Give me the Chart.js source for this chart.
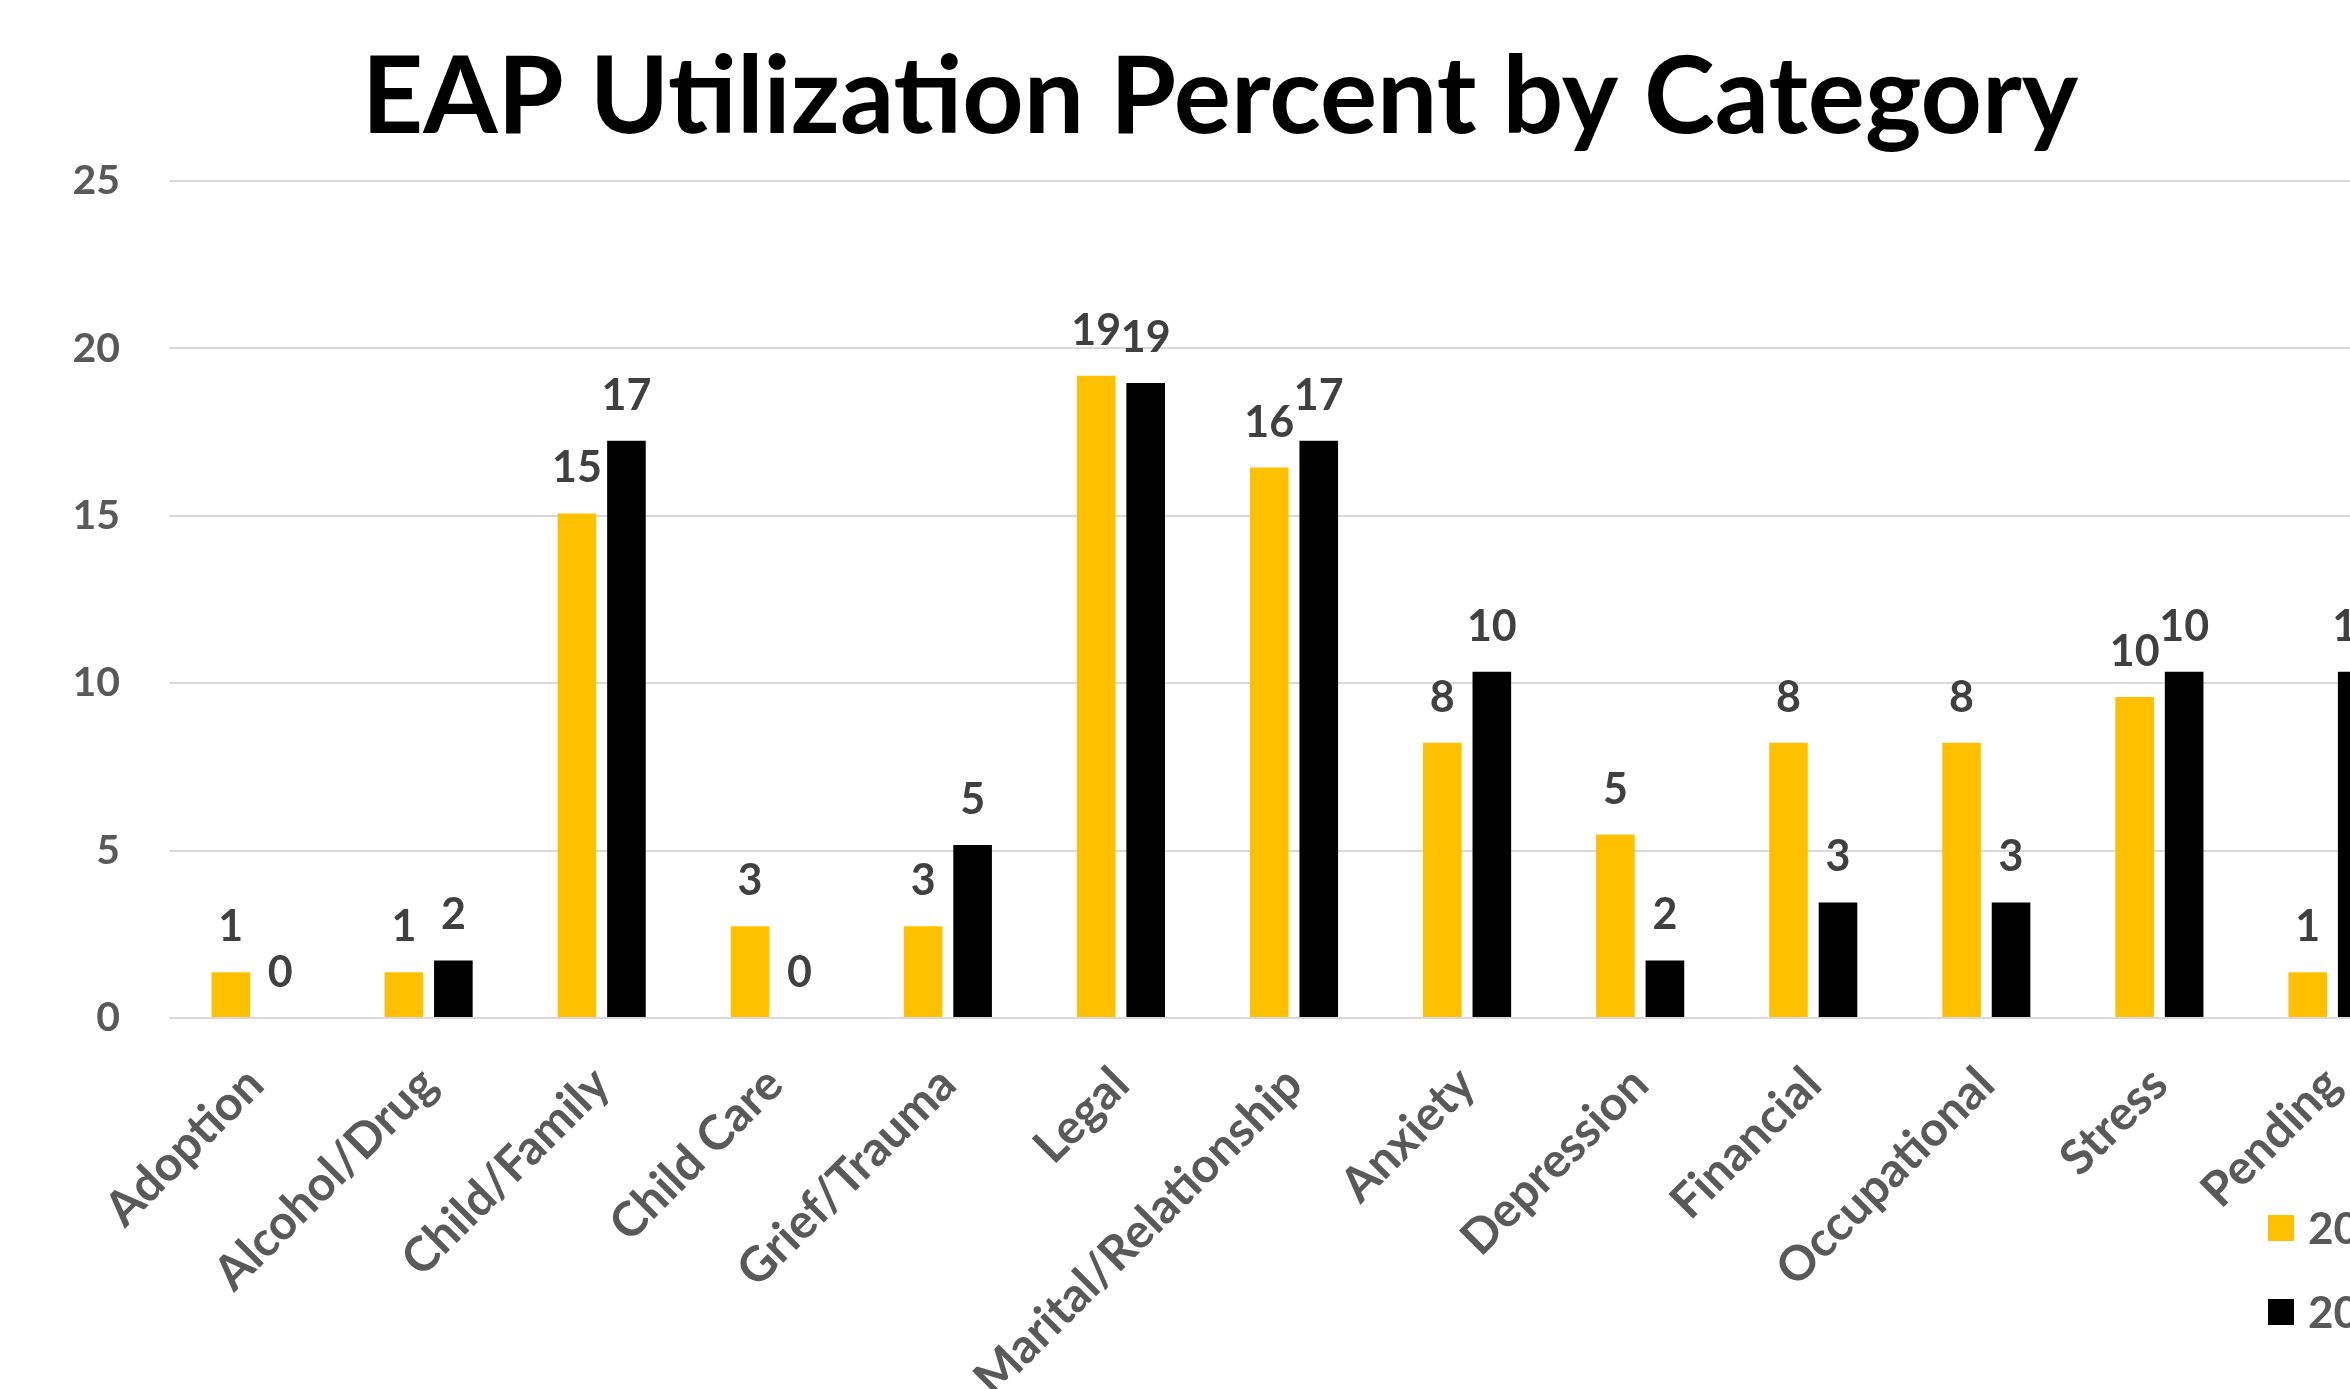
<!DOCTYPE html>
<html><head><meta charset="utf-8">
<script src="https://cdn.jsdelivr.net/npm/chart.js@4.4.0/dist/chart.umd.min.js"></script>
<style>
html,body{margin:0;padding:0;background:#fff;overflow:hidden;}
#wrap{position:relative;width:2440px;height:1389px;}
</style></head><body>
<div id="wrap"><canvas id="c"></canvas></div>
<script>
const categories = ['Adoption','Alcohol/Drug','Child/Family','Child Care','Grief/Trauma','Legal','Marital/Relationship','Anxiety','Depression','Financial','Occupational','Stress','Pending'];
const seriesNames = ['2017','2018'];
const values2017 = [1.37,1.37,15.07,2.74,2.74,19.18,16.44,8.22,5.48,8.22,8.22,9.59,1.37];
const values2018 = [0,1.72,17.24,0,5.17,18.97,17.24,10.34,1.72,3.45,3.45,10.34,10.34];
const yTicks = [0,5,10,15,20,25];
const seriesColors = ['#FFC000','#000000'];

const valueLabels = {
  id:'valueLabels',
  afterDatasetsDraw(chart){
    const ctx = chart.ctx;
    ctx.save();
    ctx.font = 'bold 43px Lato';
    ctx.fillStyle = '#404040';
    ctx.textAlign = 'center';
    ctx.textBaseline = 'alphabetic';
    chart.data.datasets.forEach((ds,i)=>{
      const meta = chart.getDatasetMeta(i);
      meta.data.forEach((bar,j)=>{
        ctx.fillText(String(Math.round(ds.data[j])), bar.x, bar.y - 31);
      });
    });
    ctx.restore();
  }
};
const sideLegend = {
  id:'sideLegend',
  afterDraw(chart){
    const ctx = chart.ctx;
    ctx.save();
    ctx.font = 'bold 44px Lato';
    ctx.textBaseline = 'middle';
    ctx.textAlign = 'left';
    chart.data.datasets.forEach((ds,i)=>{
      const y = 1228 + i*84;
      ctx.fillStyle = ds.backgroundColor;
      ctx.fillRect(2268, y-13, 26, 26);
      ctx.fillStyle = '#595959';
      ctx.fillText(ds.label, 2308, y+2);
    });
    ctx.restore();
  }
};

function draw(){
  new Chart(document.getElementById('c'), {
    type:'bar',
    data:{
      labels: categories,
      datasets:[
        {label:seriesNames[0], data:values2017, backgroundColor:seriesColors[0], categoryPercentage:0.572, barPercentage:0.78},
        {label:seriesNames[1], data:values2018, backgroundColor:seriesColors[1], categoryPercentage:0.572, barPercentage:0.78}
      ]
    },
    options:{
      responsive:true, maintainAspectRatio:false, animation:false, devicePixelRatio:1,
      layout:{padding:{left:21, right:21, top:0, bottom:0}},
      plugins:{
        legend:{display:false},
        tooltip:{enabled:false},
        title:{display:true, text:'EAP Utilization Percent by Category', color:'#000',
          font:{family:'Lato', weight:'bold', size:107, lineHeight:1}, padding:{top:45, bottom:29}}
      },
      scales:{
        x:{
          grid:{display:false}, border:{display:false},
          ticks:{color:'#595959', font:{family:'Lato', weight:'bold', size:48}, minRotation:45, maxRotation:45, padding:30, autoSkip:false},
          afterFit(s){ s.height = 371; }
        },
        y:{
          min:0, max:25,
          afterBuildTicks(s){ s.ticks = yTicks.map(v=>({value:v})); },
          grid:{color:'#D9D9D9', lineWidth:2, drawTicks:false}, border:{display:false},
          ticks:{color:'#595959', font:{family:'Lato', weight:'bold', size:41}, padding:49},
          afterFit(s){ s.width = 148; }
        }
      }
    },
    plugins:[valueLabels, sideLegend]
  });
}
document.fonts.load('bold 40px Lato').then(draw, draw);
</script>
</body></html>
